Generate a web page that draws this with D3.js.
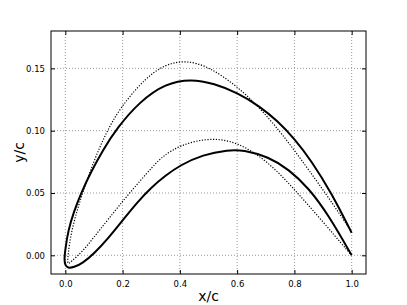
<!DOCTYPE html>
<html><head><meta charset="utf-8">
<script src="https://cdn.jsdelivr.net/npm/d3@7"></script>
<style>body{margin:0;background:#fff}svg{display:block}text{font-family:"DejaVu Sans",sans-serif;fill:#000}</style>
</head><body>
<svg id="c" width="407" height="305"></svg>
<script>
// Solid profile: leading edge point, upper and lower surfaces
const leSolid = [-0.004, -0.004];
const solidUpperX = [0.0, 0.01, 0.03, 0.055, 0.09, 0.13, 0.18, 0.26, 0.35, 0.44, 0.52, 0.60, 0.68, 0.74, 0.80, 0.86, 0.93, 1.0];
const solidUpperY = [0.005, 0.02, 0.035, 0.05, 0.067, 0.084, 0.102, 0.1235, 0.138, 0.1416, 0.1378, 0.1306, 0.1194, 0.108, 0.0936, 0.0756, 0.0497, 0.018];
const solidLowerX = [0.0, 0.008, 0.03, 0.06, 0.10, 0.15, 0.20, 0.25, 0.30, 0.35, 0.40, 0.48, 0.57, 0.62, 0.71, 0.78, 0.85, 0.92, 1.0];
const solidLowerY = [-0.008, -0.0102, -0.0097, -0.0064, 0.0012, 0.0137, 0.028, 0.0422, 0.0545, 0.064, 0.0722, 0.0808, 0.0846, 0.0846, 0.079, 0.069, 0.054, 0.032, 0.0];
// Dotted profile
const leDotted = [0.007, -0.008];
const dotUpperX = [0.009, 0.02, 0.04, 0.06, 0.10, 0.14, 0.19, 0.28, 0.35, 0.42, 0.50, 0.60, 0.68, 0.75, 0.80, 0.85, 0.92, 0.995];
const dotUpperY = [0.0, 0.018, 0.035, 0.05, 0.076, 0.0972, 0.1182, 0.1425, 0.1534, 0.1565, 0.1517, 0.1357, 0.1181, 0.0992, 0.0842, 0.0685, 0.0461, 0.0205];
const dotLowerX = [0.02, 0.06, 0.10, 0.15, 0.22, 0.31, 0.34, 0.40, 0.50, 0.60, 0.71, 0.80, 0.89, 0.995];
const dotLowerY = [-0.005, 0.003, 0.0145, 0.029, 0.049, 0.0725, 0.0794, 0.0884, 0.0944, 0.0914, 0.0749, 0.0529, 0.0295, 0.0012];
const xTicks = [0.0, 0.2, 0.4, 0.6, 0.8, 1.0];
const yTicks = [0.00, 0.05, 0.10, 0.15];

const svg = d3.select("#c");
const L = 51, R = 366, T = 31, B = 274;
const x = d3.scaleLinear().domain([-0.05, 1.05]).range([L, R]);
const y = d3.scaleLinear().domain([-0.015, 0.18]).range([B, T]);

// grid
const g = svg.append("g");
xTicks.forEach(t => g.append("line").attr("x1", x(t)).attr("x2", x(t)).attr("y1", T).attr("y2", B)
  .attr("stroke", "#999").attr("stroke-width", 1).attr("stroke-dasharray", "1,2"));
yTicks.forEach(t => g.append("line").attr("x1", L).attr("x2", R).attr("y1", y(t)).attr("y2", y(t))
  .attr("stroke", "#999").attr("stroke-width", 1).attr("stroke-dasharray", "1,2"));

function profile(le, ux, uy, lx, ly) {
  const pts = [];
  for (let i = ux.length - 1; i >= 0; i--) pts.push([ux[i], uy[i]]);
  pts.push(le);
  for (let i = 0; i < lx.length; i++) pts.push([lx[i], ly[i]]);
  return pts;
}
const line = d3.line().x(d => x(d[0])).y(d => y(d[1])).curve(d3.curveBasis);

svg.append("path").attr("d", line(profile(leDotted, dotUpperX, dotUpperY, dotLowerX, dotLowerY)))
  .attr("fill", "none").attr("stroke", "#000").attr("stroke-width", 1.2).attr("stroke-dasharray", "1.2,1.6");
svg.append("path").attr("d", line(profile(leSolid, solidUpperX, solidUpperY, solidLowerX, solidLowerY)))
  .attr("fill", "none").attr("stroke", "#000").attr("stroke-width", 2);

// axes (inward ticks on all sides)
const tl = 4;
const ax = svg.append("g");
ax.append("g").attr("transform", `translate(0,${B})`).call(d3.axisBottom(x).tickValues(xTicks).tickFormat(d3.format(".1f")).tickSizeInner(-tl).tickSizeOuter(0).tickPadding(7));
ax.append("g").attr("transform", `translate(0,${T})`).call(d3.axisTop(x).tickValues(xTicks).tickFormat("").tickSizeInner(-tl).tickSizeOuter(0));
ax.append("g").attr("transform", `translate(${L},0)`).call(d3.axisLeft(y).tickValues(yTicks).tickFormat(d3.format(".2f")).tickSizeInner(-tl).tickSizeOuter(0).tickPadding(6));
ax.append("g").attr("transform", `translate(${R},0)`).call(d3.axisRight(y).tickValues(yTicks).tickFormat("").tickSizeInner(-tl).tickSizeOuter(0));
ax.selectAll(".domain").remove();
ax.selectAll("text").attr("font-size", "8.5px").attr("font-family", "DejaVu Sans");
ax.selectAll(".tick line").attr("stroke", "#000");
svg.append("rect").attr("x", L).attr("y", T).attr("width", R - L).attr("height", B - T)
  .attr("fill", "none").attr("stroke", "#000").attr("stroke-width", 1);

svg.append("text").attr("x", (L + R) / 2).attr("y", 301).attr("text-anchor", "middle").attr("font-size", "14px").text("x/c");
svg.append("text").attr("transform", `translate(24,${(T + B) / 2}) rotate(-90)`).attr("text-anchor", "middle").attr("font-size", "14px").text("y/c");
</script>
</body></html>
